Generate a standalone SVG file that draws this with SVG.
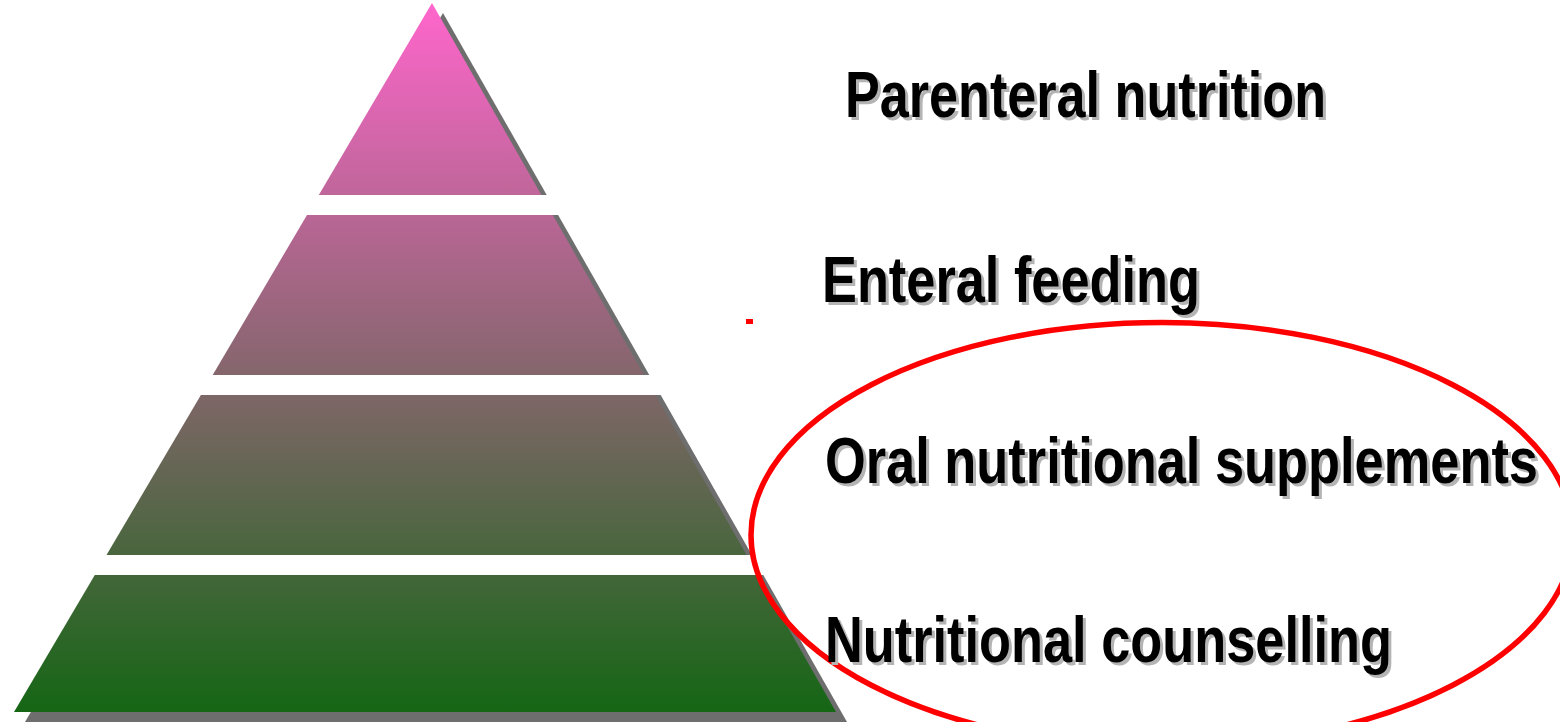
<svg xmlns="http://www.w3.org/2000/svg" width="1560" height="722" viewBox="0 0 1560 722">
  <defs>
    <linearGradient id="pyr" gradientUnits="userSpaceOnUse" x1="0" y1="3" x2="0" y2="712">
      <stop offset="0" stop-color="#ff66cc"/>
      <stop offset="1" stop-color="#156615"/>
    </linearGradient>
  </defs>
  <style>
    .lbl { font-family: "Liberation Sans Narrow", "Arial Narrow", "Liberation Sans", Arial, sans-serif; font-weight: bold; font-size: 64px; }
    .sh { fill: #b4b4b4; }
    .fg { fill: #000000; }
    .layer { fill: url(#pyr); }
    .gap { fill: #ffffff; }
  </style>
  <rect x="0" y="0" width="1560" height="722" fill="#ffffff"/>

  <g id="pyramid-shadow">
    <polygon fill="#6e6e6e" points="443,13 847,722 25,722"/>
    <rect class="gap" x="0" y="195" width="900" height="20"/>
    <rect class="gap" x="0" y="375" width="900" height="20"/>
    <rect class="gap" x="0" y="555" width="900" height="20"/>
  </g>

  <g id="layer-parenteral">
    <polygon class="layer" points="432,3 541.4,195 318.8,195"/>
  </g>
  <g id="layer-enteral">
    <polygon class="layer" points="307,215 552.8,215 644,375 212.7,375"/>
  </g>
  <g id="layer-oral">
    <polygon class="layer" points="200.9,395 655.4,395 746.6,555 106.5,555"/>
  </g>
  <g id="layer-counselling">
    <polygon class="layer" points="94.8,575 758,575 836,712 14,712"/>
  </g>

  <g id="highlight">
    <ellipse cx="1162" cy="535" rx="411" ry="212.5" fill="none" stroke="#ff0000" stroke-width="5.5"/>
    <rect x="746" y="319" width="7" height="5" fill="#ff0000"/>
  </g>

  <g id="label-parenteral" class="lbl">
    <text class="sh" x="848" y="120" textLength="481" lengthAdjust="spacingAndGlyphs">Parenteral nutrition</text>
    <text class="fg" x="845" y="117" textLength="481" lengthAdjust="spacingAndGlyphs">Parenteral nutrition</text>
  </g>
  <g id="label-enteral" class="lbl">
    <text class="sh" x="825" y="305" textLength="378" lengthAdjust="spacingAndGlyphs">Enteral feeding</text>
    <text class="fg" x="822" y="302" textLength="378" lengthAdjust="spacingAndGlyphs">Enteral feeding</text>
  </g>
  <g id="label-oral" class="lbl">
    <text class="sh" x="828" y="486" textLength="713" lengthAdjust="spacingAndGlyphs">Oral nutritional supplements</text>
    <text class="fg" x="825" y="483" textLength="713" lengthAdjust="spacingAndGlyphs">Oral nutritional supplements</text>
  </g>
  <g id="label-counselling" class="lbl">
    <text class="sh" x="828" y="665" textLength="567" lengthAdjust="spacingAndGlyphs">Nutritional counselling</text>
    <text class="fg" x="825" y="662" textLength="567" lengthAdjust="spacingAndGlyphs">Nutritional counselling</text>
  </g>
</svg>
